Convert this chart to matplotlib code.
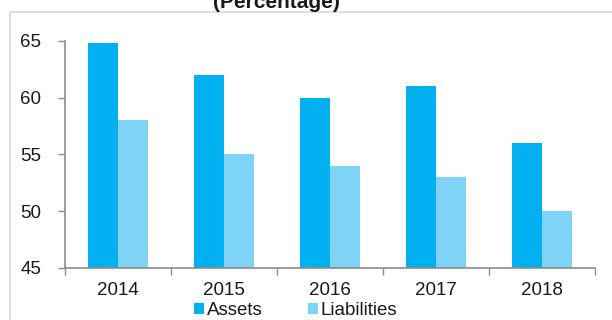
import numpy as np
import matplotlib.pyplot as plt
from matplotlib.patches import Rectangle

plt.rcParams['font.family'] = ['Liberation Sans', 'DejaVu Sans']

years = ['2014', '2015', '2016', '2017', '2018']
assets = [64.8, 62, 60, 61, 56]
liabilities = [58, 55, 54, 53, 50]

fig = plt.figure(figsize=(6.12, 3.2), dpi=100)
ax = fig.add_axes([65/612, 1 - 268/320, 530/612, 227/320])

# outer frame of the chart box
fig.patches.append(Rectangle((10/612, -0.1), 1.0, 1 - 12/320 + 0.1, transform=fig.transFigure,
                             fill=False, edgecolor='#d9d9d9', linewidth=1.2))

x = np.arange(len(years))
w = 0.285
ax.bar(x - w/2, np.array(assets) - 45, w, bottom=45, color='#00b0f0', label='Assets')
ax.bar(x + w/2, np.array(liabilities) - 45, w, bottom=45, color='#7fd3f7', label='Liabilities')

ax.set_xlim(-0.5, len(years) - 0.5)
ax.set_ylim(45, 65)
ax.set_yticks([45, 50, 55, 60, 65])
ax.set_xticks(x)
ax.set_xticklabels(years)
ax.set_xticks(np.arange(-0.5, len(years)), minor=True)
ax.tick_params(axis='x', which='major', length=0, pad=10, labelsize=13.5, labelcolor='#1a1a1a')
ax.tick_params(axis='x', which='minor', length=5, color='#8c8c8c', width=1)
ax.tick_params(axis='y', length=5, color='#8c8c8c', width=1, labelsize=13.5, pad=12,
               labelcolor='#1a1a1a')

for s in ['top', 'right']:
    ax.spines[s].set_visible(False)
for s in ['left', 'bottom']:
    ax.spines[s].set_color('#8c8c8c')
    ax.spines[s].set_linewidth(1.2)

leg = fig.legend(loc='upper left', bbox_to_anchor=(194/612, 1 - 302/320), ncol=2, frameon=False,
                 fontsize=13.5, handlelength=0.55, handleheight=0.55, handletextpad=0.15,
                 columnspacing=2.4, borderaxespad=0, borderpad=0)
for t in leg.get_texts():
    t.set_color('#1a1a1a')

fig.text(276/612, 1 - 8/320, '(Percentage)', ha='center', va='baseline',
         fontsize=15, fontweight='bold', color='#1a1a1a')

fig.savefig('out.png', dpi=100)
